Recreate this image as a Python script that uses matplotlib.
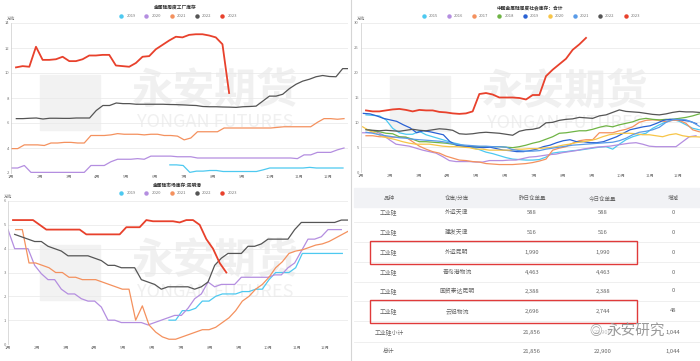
import numpy as np
import matplotlib
matplotlib.use("Agg")
import matplotlib.pyplot as plt
from matplotlib.lines import Line2D
from matplotlib.patches import Rectangle

plt.rcParams['font.family'] = ['Noto Sans CJK SC', 'DejaVu Sans']

W, H = 700, 361
months = [f"{m}月" for m in range(1, 13)]
month_step = 4.33

# ---- 金属硅周度工厂库存 (weekly points) ----
f_2019_start = 23.85
f_2019 = [2.65, 2.65, 2.6, 2.05, 2.15, 2.15, 2.2, 2.2, 2.12, 2.12, 2.12, 2.12, 2.12, 2.12,
          2.25, 2.4, 2.4, 2.4, 2.4, 2.4, 2.4, 2.45, 2.4, 2.4, 2.4, 2.4, 2.4]
f_2020_start = 0
f_2020 = [2.4, 2.4, 2.6, 2.05, 2.05, 2.05, 2.05, 2.05, 2.05, 2.05, 2.05, 2.05, 2.6, 2.6, 2.6,
          2.9, 3.1, 3.1, 3.1, 3.15, 3.1, 3.35, 3.35, 3.35, 3.35, 3.3, 3.3, 3.3, 3.2, 3.2, 3.2,
          3.2, 3.2, 3.2, 3.2, 3.2, 3.2, 3.2, 3.2, 3.2, 3.2, 3.2, 3.2, 3.15, 3.45, 3.45, 3.65,
          3.65, 3.65, 3.85, 4.0]
f_2021_start = 0
f_2021 = [3.95, 3.95, 4.25, 4.25, 4.25, 4.2, 4.4, 4.4, 4.45, 4.45, 4.4, 4.4, 5.0, 5.0, 5.0,
          5.05, 5.15, 5.1, 5.1, 5.1, 5.05, 5.1, 5.1, 5.0, 5.0, 4.95, 4.65, 4.8, 5.3, 5.3, 5.3,
          5.3, 5.6, 5.6, 5.6, 5.6, 5.6, 5.6, 5.6, 5.6, 5.65, 5.7, 5.7, 5.7, 5.7, 5.7, 6.05,
          6.35, 6.35, 6.3, 6.35]
f_2022_start = 0.8
f_2022 = [6.35, 6.35, 6.38, 6.4, 6.32, 6.38, 6.38, 6.37, 6.37, 6.4, 6.4, 6.4, 7.0, 7.4, 7.4,
          7.6, 7.55, 7.55, 7.5, 7.5, 7.5, 7.5, 7.5, 7.48, 7.47, 7.45, 7.42, 7.4, 7.32, 7.3, 7.3,
          7.28, 7.27, 7.25, 7.3, 7.32, 7.35, 7.75, 8.15, 8.15, 8.3, 8.75, 9.1, 9.35, 9.5, 9.7,
          9.8, 9.72, 9.7, 10.35, 10.35]
f_2023_start = 0.75
f_2023 = [10.45, 10.55, 10.5, 12.1, 11.05, 11.05, 11.1, 11.3, 10.95, 10.95, 11.1, 11.4, 11.4,
          11.45, 11.45, 10.6, 10.55, 10.5, 10.8, 11.3, 11.35, 11.9, 12.25, 12.6, 12.9, 12.85,
          13.05, 13.1, 13.1, 13.0, 12.85, 12.3, 8.4]

# ---- 中国金属硅周度社会库存：合计 ----
s_2015 = [11.5, 11.4, 11.3, 10.5, 8.8, 7.9, 7.6, 7.6, 8.2, 7.5, 7.1, 6.7, 6.3, 5.9, 5.6, 5.2,
          4.9, 4.5, 4.0, 3.7, 3.3, 2.9, 2.6, 2.5, 2.4, 2.4, 2.5, 3.0, 3.8, 4.0, 4.1, 4.3, 4.4,
          4.6, 4.8, 5.0, 5.1, 4.6, 5.6, 6.5, 7.1, 7.5, 7.8, 8.8, 9.5, 10.1, 10.6, 10.2, 9.5,
          8.8, 8.5]
s_2016 = [7.9, 7.9, 8.1, 7.5, 6.5, 5.6, 5.4, 5.2, 4.8, 4.4, 4.1, 3.8, 3.1, 2.3, 2.1, 2.1, 2.1,
          2.0, 2.0, 2.3, 2.3, 2.3, 2.4, 2.4, 2.7, 3.0, 3.1, 3.3, 3.5, 3.6, 3.9, 4.1, 4.3, 4.6,
          4.8, 5.0, 5.1, 5.2, 5.4, 5.6, 5.8, 5.9, 5.6, 5.2, 5.1, 5.1, 5.1, 5.1, 6.1, 7.1, 7.3]
s_2017 = [7.3, 7.3, 7.1, 7.1, 7.0, 7.0, 7.0, 6.1, 5.2, 4.6, 4.1, 3.8, 3.2, 2.8, 2.4, 2.3, 2.1,
          2.0, 1.7, 1.6, 1.5, 1.5, 1.5, 1.6, 1.7, 1.9, 2.2, 2.6, 4.4, 4.8, 5.1, 5.8, 6.3, 6.5,
          6.5, 7.9, 7.9, 7.9, 8.3, 8.6, 9.1, 10.0, 10.4, 10.5, 10.4, 10.1, 10.4, 10.4, 9.8,
          8.5, 8.1]
s_2018 = [8.6, 8.3, 8.1, 7.8, 7.7, 7.1, 7.0, 6.6, 6.1, 6.1, 6.0, 5.9, 5.8, 5.6, 5.3, 5.1, 5.1,
          5.1, 5.1, 5.1, 5.1, 5.0, 4.9, 5.1, 5.4, 5.8, 6.1, 6.6, 7.1, 7.8, 7.9, 8.1, 8.3, 8.3,
          8.6, 9.0, 9.3, 9.1, 9.5, 9.8, 10.1, 10.6, 10.8, 10.6, 10.5, 10.6, 10.6, 10.8, 11.0,
          11.3, 11.7]
s_2019 = [11.8, 11.7, 11.3, 10.8, 10.5, 10.2, 9.5, 8.9, 7.9, 8.3, 8.1, 7.8, 7.5, 6.1, 5.4, 5.2,
          5.1, 5.0, 4.9, 5.0, 4.7, 4.4, 4.3, 4.1, 4.1, 4.3, 4.6, 5.1, 5.4, 5.9, 6.3, 6.5, 6.1,
          6.1, 5.9, 5.9, 6.1, 6.6, 7.1, 7.8, 8.5, 8.8, 9.1, 9.3, 9.8, 10.4, 10.6, 10.6, 10.4,
          10.2, 9.7]
s_2020 = [9.1, 8.3, 7.8, 7.1, 6.8, 6.5, 6.1, 5.8, 5.6, 5.6, 5.6, 5.4, 5.2, 5.1, 5.1, 5.0, 4.9,
          4.6, 4.6, 4.4, 4.4, 4.4, 4.4, 4.6, 4.6, 4.7, 4.7, 4.8, 4.9, 5.1, 5.4, 5.6, 5.9, 6.1,
          6.3, 6.6, 7.1, 7.5, 7.7, 7.8, 7.8, 7.7, 7.5, 7.5, 7.3, 7.1, 7.5, 7.7, 7.3, 7.1, 7.1,
          7.0]
s_2021 = [8.0, 7.8, 7.5, 7.3, 7.1, 6.9, 6.8, 6.6, 6.5, 6.4, 6.3, 6.2, 6.0, 5.7, 5.5, 5.4, 5.3,
          5.2, 5.2, 5.1, 5.1, 5.0, 4.5, 4.3, 4.2, 4.2, 4.3, 4.6, 4.8, 5.0, 5.2, 5.4, 5.5, 5.6,
          5.7, 5.8, 5.9, 6.0, 6.3, 6.8, 7.5, 8.0, 8.2, 8.5, 9.0, 10.0, 10.5, 10.6, 10.5, 10.0,
          9.2]
s_2022 = [8.5, 8.4, 8.3, 8.4, 8.3, 8.2, 8.4, 8.6, 8.4, 8.3, 8.5, 8.7, 8.6, 8.4, 7.7, 7.6, 7.7,
          7.9, 8.0, 7.9, 7.8, 7.6, 7.4, 8.2, 8.5, 8.6, 8.9, 9.9, 10.0, 10.4, 10.6, 10.7, 11.0,
          10.9, 10.8, 11.3, 11.5, 12.0, 12.5, 12.2, 12.1, 12.0, 11.8, 11.6, 11.5, 11.7, 12.0,
          12.2, 12.1, 12.1, 12.0]
s_2023 = [12.4, 12.2, 12.2, 12.4, 12.6, 12.7, 12.5, 12.2, 12.5, 12.4, 12.4, 12.1, 12.0, 11.8,
          11.7, 11.8, 12.2, 15.7, 15.9, 15.6, 15.0, 15.0, 15.0, 14.9, 14.6, 15.5, 15.5, 19.3,
          20.6, 21.7, 22.8, 24.6, 25.7, 27.0]
s_years = ['2015', '2016', '2017', '2018', '2019', '2020', '2021', '2022', '2023']
s_series = [s_2015, s_2016, s_2017, s_2018, s_2019, s_2020, s_2021, s_2022, s_2023]
s_starts = [0.75, 0.25, 0.75, 0.75, 0.35, 0.25, 0.75, 0.75, 0.75]
s_colors = ['#4dc9f0', '#b48ee0', '#f4915e', '#6fb445', '#2a62d4', '#f7c548', '#5a9be8',
            '#555555', '#e8412c']

# ---- 金属硅市场库存:昆明港 ----
k_2019_start = 24.15
k_2019 = [1.0, 1.0, 1.4, 1.4, 1.5, 1.8, 1.8, 2.0, 2.1, 2.1, 2.1, 2.2, 2.2, 2.3, 2.3, 2.7, 3.0,
          3.0, 3.0, 3.2, 3.8, 3.8, 3.8, 3.8, 3.8, 3.8, 3.8]
k_2020_start = 0
k_2020 = [4.8, 4.0, 4.0, 4.0, 3.3, 2.95, 2.7, 2.7, 2.3, 2.1, 2.1, 1.9, 1.8, 1.8, 1.55, 1.0, 1.0,
          0.9, 0.9, 0.9, 0.9, 0.8, 0.9, 1.0, 1.1, 1.2, 1.2, 1.5, 1.9, 2.1, 2.6, 2.4, 2.5, 2.5,
          2.5, 2.8, 2.8, 2.8, 2.8, 2.8, 2.9, 2.9, 3.2, 3.4, 3.9, 4.4, 4.4, 4.5, 4.8, 4.8, 4.8]
k_2021_start = 1.15
k_2021 = [4.8, 4.8, 3.4, 3.4, 3.3, 3.2, 3.0, 3.0, 2.8, 2.8, 2.7, 2.7, 2.7, 2.6, 2.5, 2.4, 2.3,
          2.3, 1.0, 1.6, 0.8, 0.5, 0.3, 0.2, 0.2, 0.3, 0.4, 0.5, 0.6, 0.6, 0.7, 0.9, 1.1, 1.4,
          1.8, 2.0, 2.3, 2.5, 2.8, 3.2, 3.45, 3.8, 3.9, 3.95, 4.05, 4.15, 4.2, 4.3, 4.45, 4.6,
          4.75]
k_2022_start = 1.0
k_2022 = [4.6, 4.5, 4.4, 4.3, 4.3, 4.1, 4.0, 3.9, 3.7, 3.7, 3.7, 3.7, 3.6, 3.5, 3.3, 3.3, 3.2,
          3.2, 3.2, 2.7, 2.6, 2.5, 2.3, 2.4, 2.4, 2.4, 2.4, 2.3, 2.4, 2.6, 3.3, 3.6, 3.8, 3.8,
          3.8, 4.1, 4.1, 4.2, 4.4, 4.4, 4.4, 4.4, 4.8, 5.1, 5.1, 5.1, 5.1, 5.1, 5.1, 5.2, 5.2]
k_2023_start = 0.75
k_2023 = [5.2, 5.2, 5.2, 5.2, 5.0, 4.8, 4.8, 4.8, 4.8, 4.8, 4.8, 4.6, 4.6, 4.6, 4.6, 4.6, 4.6,
          4.9, 4.9, 4.9, 5.2, 5.15, 5.15, 5.15, 5.15, 5.1, 5.2, 5.2, 5.0, 4.4, 4.0, 3.4, 3.0]

five_years = ['2019', '2020', '2021', '2022', '2023']
five_colors = ['#4dc9f0', '#b48ee0', '#f4915e', '#555555', '#e8412c']

# ---- 仓单表 ----
tbl_header = ['品种', '仓库/分库', '昨日仓单量', '今日仓单量', '增减']
tbl_kind = ['工业硅', '工业硅', '工业硅', '工业硅', '工业硅', '工业硅', '工业硅小计', '总计']
tbl_store = ['外运天津', '建发天津', '外运昆明', '青岛港物流', '国贸泰达昆明', '云铝物流', '', '']
tbl_prev = ['588', '516', '1,990', '4,463', '2,388', '2,696', '21,856', '21,856']
tbl_today = ['588', '516', '1,990', '4,463', '2,388', '2,744', '22,900', '22,900']
tbl_diff = ['0', '0', '0', '0', '0', '48', '1,044', '1,044']
tbl_marked = [2, 5]

fig = plt.figure(figsize=(W / 100, H / 100), dpi=100)


def px_axes(l, t, r, b):
    return fig.add_axes([l / W, 1 - b / H, (r - l) / W, (b - t) / H])


def style(ax, ylim, yticks, xmax):
    ax.set_facecolor('none')
    ax.set_xlim(0, xmax)
    ax.set_ylim(*ylim)
    ax.set_yticks(yticks)
    ax.set_xticks([m * month_step for m in range(12)])
    ax.set_xticklabels(months)
    ax.tick_params(length=0, labelsize=3, colors='#777777', pad=1.5)
    for s in ['top', 'right', 'bottom']:
        ax.spines[s].set_visible(False)
    ax.spines['left'].set_color('#cccccc')
    ax.spines['left'].set_linewidth(0.5)
    ax.grid(axis='y', color='#e8e8e8', lw=0.5)
    ax.set_axisbelow(True)
    ax.text(0, 1.012, '万吨', transform=ax.transAxes, ha='center', va='bottom',
            fontsize=3, color='#777777')


def watermark(ax, lx, ty):
    # light company watermark, in pixel coordinates of the figure
    tr = fig.transFigure
    ax.add_patch(Rectangle((lx / W, 1 - (ty + 55) / H), 60 / W, 55 / H, transform=tr,
                           color='#f2f2f2', zorder=0, clip_on=False))
    ax.text((lx + 175) / W, 1 - (ty + 16) / H, '永安期货', transform=tr, ha='center',
            va='center', fontsize=30, color='#f0f0f0', zorder=0, fontweight='bold')
    ax.text((lx + 175) / W, 1 - (ty + 47) / H, 'YONGAN FUTURES', transform=tr, ha='center',
            va='center', fontsize=13, color='#f0f0f0', zorder=0)


def legend(labels, colors, cx, cy):
    handles = [Line2D([], [], ls='', marker='o', ms=2.2, color=c) for c in colors]
    fig.legend(handles, labels, loc='center', bbox_to_anchor=(cx / W, 1 - cy / H), ncol=len(labels),
               frameon=False, fontsize=3, handletextpad=0.2, columnspacing=1.6,
               labelcolor='#777777', borderpad=0)


def draw(ax, start, vals, color, lw=0.9):
    x = start + np.arange(len(vals))
    ax.plot(x, vals, color=color, lw=lw, zorder=2, solid_joinstyle='round')


# top-left
ax1 = px_axes(11, 23, 348, 173)
style(ax1, (2, 14), range(2, 15, 2), 50.6)
watermark(ax1, 40, 75)
fac = [(f_2019_start, f_2019), (f_2020_start, f_2020), (f_2021_start, f_2021),
       (f_2022_start, f_2022), (f_2023_start, f_2023)]
for (st, v), c in zip(fac, five_colors):
    draw(ax1, st, v, c, 1.3 if c == '#e8412c' else 0.9)
fig.text(175 / W, 1 - 7 / H, '金属硅周度工厂库存', ha='center', va='center', fontsize=3.4,
         fontweight='bold', color='#333333')
legend(five_years, five_colors, 177, 16)

# top-right
ax2 = px_axes(361, 23, 700, 172)
style(ax2, (0, 30), range(0, 31, 5), 50.85)
watermark(ax2, 390, 76)
for st, v, c in zip(s_starts, s_series, s_colors):
    draw(ax2, st, v, c, 1.3 if c == '#e8412c' else 0.9)
fig.text(530 / W, 1 - 8 / H, '中国金属硅周度社会库存：合计', ha='center', va='center', fontsize=3.4,
         fontweight='bold', color='#333333')
legend(s_years, s_colors, 530, 16)

# bottom-left
ax3 = px_axes(8, 201, 348, 344)
style(ax3, (0, 6), range(0, 7), 51)
watermark(ax3, 40, 245)
kun = [(k_2019_start, k_2019), (k_2020_start, k_2020), (k_2021_start, k_2021),
       (k_2022_start, k_2022), (k_2023_start, k_2023)]
for (st, v), c in zip(kun, five_colors):
    draw(ax3, st, v, c, 1.3 if c == '#e8412c' else 0.9)
fig.text(177 / W, 1 - 185 / H, '金属硅市场库存:昆明港', ha='center', va='center', fontsize=3.4,
         fontweight='bold', color='#333333')
legend(five_years, five_colors, 177, 193)

# panel divider
fig.add_artist(Line2D([351 / W, 351 / W], [0, 1], color='#d5d5d5', lw=0.8))

# bottom-right table
axt = px_axes(350, 180, 700, 361)
axt.set_xlim(350, 700)
axt.set_ylim(361, 180)
axt.axis('off')
axt.add_patch(Rectangle((354, 188), 346, 19, color='#f1f2f5', zorder=1))
col_x = [389, 457, 532, 603, 673]
for cx, h in zip(col_x, tbl_header):
    axt.text(cx, 198, h, ha='center', va='center', fontsize=4, color='#666666', zorder=3)
row_y = [212, 232, 252, 272, 291, 311, 332, 351]
for i, y in enumerate(row_y):
    vals = [tbl_kind[i], tbl_store[i], tbl_prev[i], tbl_today[i], tbl_diff[i]]
    for cx, v in zip(col_x, vals):
        axt.text(cx, y, v, ha='center', va='center', fontsize=4.2, color='#666666', zorder=2)
    if i < len(row_y) - 1:
        axt.plot([354, 700], [y + 10, y + 10], color='#ececec', lw=0.6, zorder=1)
for i in tbl_marked:
    y = row_y[i]
    axt.add_patch(Rectangle((370, y - 11), 267, 23, fill=False, ec='#e03a3a', lw=1.0, zorder=4))
# WeChat watermark
axt.add_patch(Rectangle((583, 324), 80, 16, color='white', alpha=0.6, zorder=3))
axt.text(596, 332, '◎', ha='center', va='center', fontsize=9, color='#999999', zorder=4)
axt.text(636, 331, '永安研究', ha='center', va='center', fontsize=10.5, color='#9a9a9a', zorder=4)

fig.savefig('out.png', dpi=100, facecolor='white')
